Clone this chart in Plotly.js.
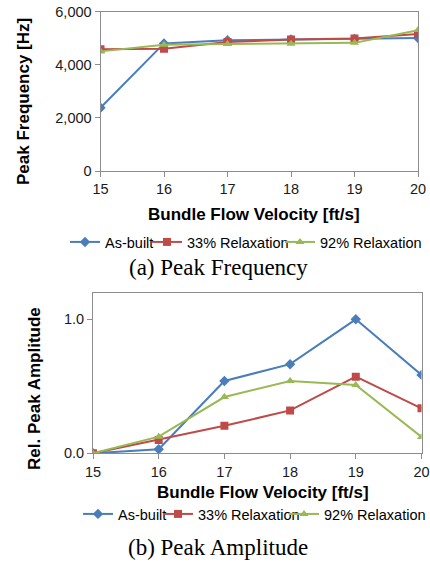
<!DOCTYPE html>
<html>
<head>
<meta charset="utf-8">
<script src="https://cdn.plot.ly/plotly-3.0.1.min.js"></script>
<style>
html,body{margin:0;padding:0;background:#fff;}
#chart{width:430px;height:563px;}
</style>
</head>
<body>
<div id="chart"></div>
<script>
// ---- Data ----
const velocity = [15, 16, 17, 18, 19, 20];
const seriesNames = ["As-built", "33% Relaxation", "92% Relaxation"];

// (a) Peak Frequency [Hz]
const freqAsBuilt = [2380, 4800, 4920, 4950, 4970, 5000];
const freq33 = [4580, 4600, 4850, 4950, 4980, 5150];
const freq92 = [4500, 4750, 4780, 4790, 4820, 5300];

// (b) Relative Peak Amplitude
const ampAsBuilt = [0.0, 0.03, 0.54, 0.665, 1.0, 0.585];
const amp33 = [0.0, 0.10, 0.205, 0.32, 0.572, 0.336];
const amp92 = [0.0, 0.124, 0.42, 0.54, 0.51, 0.122];

const xTicks = [15, 16, 17, 18, 19, 20];
const freqTicks = [0, 2000, 4000, 6000];
const freqTickText = ["0", "2,000", "4,000", "6,000"];
const ampTicks = [0, 1.0];
const ampTickText = ["0.0", "1.0"];

const captions = ["(a) Peak Frequency", "(b) Peak Amplitude"];
const xTitle = "Bundle Flow Velocity [ft/s]";
const yTitles = ["Peak Frequency [Hz]", "Rel. Peak Amplitude"];

// ---- Styles ----
const colors = ["#4A7EBB", "#BE4B48", "#98B954"];
const symbols = ["diamond", "square", "triangle-up"];
const msize = [8, 8, 8];

const W = 430, H = 563;
const px = v => v / W;
const py = v => 1 - v / H;

function mk(x, y, i, xa, ya, leg) {
  return {
    x: x, y: y, name: seriesNames[i], type: "scatter", mode: "lines+markers",
    xaxis: xa, yaxis: ya, legend: leg,
    line: {color: colors[i], width: 2},
    marker: {symbol: symbols[i], size: msize[i], color: colors[i]},
    hoverinfo: "skip"
  };
}

const traces = [
  mk(velocity, freqAsBuilt, 0, "x", "y", "legend"),
  mk(velocity, freq33, 1, "x", "y", "legend2"),
  mk(velocity, freq92, 2, "x", "y", "legend3"),
  mk(velocity, ampAsBuilt, 0, "x2", "y2", "legend4"),
  mk(velocity, amp33, 1, "x2", "y2", "legend5"),
  mk(velocity, amp92, 2, "x2", "y2", "legend6")
];

const tickFont = {family: "Liberation Sans, Arial, sans-serif", size: 14.5, color: "#1a1a1a"};
const axCommon = {
  showline: true, linecolor: "#8c8c8c", linewidth: 1, mirror: true,
  showgrid: false, zeroline: false, ticks: "outside", ticklen: 5,
  tickcolor: "#8c8c8c", tickfont: tickFont, fixedrange: true, automargin: false
};

const titleFont = {family: "Liberation Sans, Arial, sans-serif", size: 17, color: "#000"};
const capFont = {family: "Liberation Serif, Times New Roman, serif", size: 23, color: "#000"};
const legFont = {family: "Liberation Sans, Arial, sans-serif", size: 14.5, color: "#000"};

function leg(textStartX, centerY) {
  return {
    orientation: "h", x: px(textStartX - 40), y: py(centerY), xanchor: "left", yanchor: "middle",
    font: legFont, bgcolor: "rgba(0,0,0,0)", itemwidth: 30
  };
}

const layout = {
  width: W, height: H,
  margin: {l: 0, r: 0, t: 0, b: 0, pad: 0, autoexpand: false},
  paper_bgcolor: "#fff", plot_bgcolor: "#fff",
  showlegend: true,
  xaxis: Object.assign({}, axCommon, {
    domain: [px(100.5), px(418)], range: [15, 20], tickvals: xTicks, anchor: "y"
  }),
  yaxis: Object.assign({}, axCommon, {
    domain: [py(171), py(11.5)], range: [0, 6000], tickvals: freqTicks, ticktext: freqTickText, anchor: "x"
  }),
  xaxis2: Object.assign({}, axCommon, {
    domain: [px(93), px(421.5)], range: [15, 20], tickvals: xTicks, anchor: "y2"
  }),
  yaxis2: Object.assign({}, axCommon, {
    domain: [py(453.3), py(292.5)], range: [0, 1.2], tickvals: ampTicks, ticktext: ampTickText, anchor: "x2"
  }),
  legend: leg(105, 242),
  legend2: leg(187, 242),
  legend3: leg(320, 242),
  legend4: leg(118, 514),
  legend5: leg(198, 514),
  legend6: leg(324, 514),
  annotations: [
    {text: "<b>" + xTitle + "</b>", xref: "paper", yref: "paper", x: px(254), y: py(215),
     xanchor: "center", yanchor: "middle", showarrow: false, font: titleFont},
    {text: "<b>" + xTitle + "</b>", xref: "paper", yref: "paper", x: px(263), y: py(492),
     xanchor: "center", yanchor: "middle", showarrow: false, font: titleFont},
    {text: "<b>" + yTitles[0] + "</b>", xref: "paper", yref: "paper", x: px(24), y: py(102),
     xanchor: "center", yanchor: "middle", textangle: -90, showarrow: false, font: titleFont},
    {text: "<b>" + yTitles[1] + "</b>", xref: "paper", yref: "paper", x: px(34), y: py(389),
     xanchor: "center", yanchor: "middle", textangle: -90, showarrow: false, font: titleFont},
    {text: captions[0], xref: "paper", yref: "paper", x: px(218), y: py(267),
     xanchor: "center", yanchor: "middle", showarrow: false, font: capFont},
    {text: captions[1], xref: "paper", yref: "paper", x: px(218), y: py(547),
     xanchor: "center", yanchor: "middle", showarrow: false, font: capFont}
  ]
};

Plotly.newPlot("chart", traces, layout, {staticPlot: true, displayModeBar: false});
</script>
</body>
</html>
